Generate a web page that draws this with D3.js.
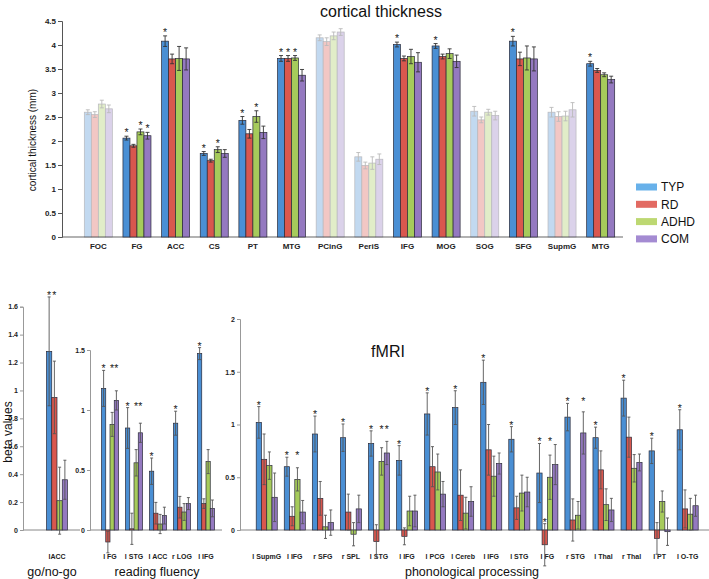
<!DOCTYPE html>
<html><head><meta charset="utf-8">
<script src="https://cdn.jsdelivr.net/npm/d3@7"></script>
<style>body{margin:0;background:#fff} svg text{font-family:"Liberation Sans",Arial,sans-serif}</style>
</head><body><svg id="c" width="709" height="579"></svg>
<script>
// ---------- DATA ----------
const groups = ["TYP", "RD", "ADHD", "COM"];

// cortical thickness (mm)
const ctLabels = ["FOC","FG","ACC","CS","PT","MTG","PCinG","PeriS","IFG","MOG","SOG","SFG","SupmG","MTG"];
const ctFaded  = [1,0,0,0,0,0,1,1,0,0,1,0,1,0];
const ctTYP  = [2.60,2.06,4.08,1.74,2.43,3.72,4.15,1.67,4.01,3.98,2.62,4.08,2.60,3.61];
const ctRD   = [2.55,1.90,3.71,1.59,2.15,3.72,4.07,1.49,3.72,3.76,2.44,3.71,2.51,3.47];
const ctADHD = [2.77,2.19,3.72,1.82,2.51,3.73,4.19,1.54,3.76,3.82,2.60,3.73,2.52,3.38];
const ctCOM  = [2.67,2.11,3.71,1.74,2.18,3.37,4.27,1.62,3.64,3.66,2.53,3.71,2.65,3.28];
const ctTYPerr  = [.05,.04,.11,.04,.08,.06,.06,.09,.05,.05,.10,.10,.10,.05];
const ctRDerr   = [.06,.03,.10,.03,.09,.06,.08,.07,.05,.05,.06,.14,.10,.04];
const ctADHDerr = [.08,.06,.25,.06,.12,.05,.08,.13,.15,.10,.06,.25,.10,.04];
const ctCOMerr  = [.08,.07,.23,.08,.13,.12,.07,.11,.20,.13,.09,.25,.15,.07];
const ctStars = [[0,0,0,0],[1,0,1,1],[1,0,0,0],[1,0,1,0],[1,0,1,0],[1,1,1,0],[0,0,0,0],
                 [0,0,0,0],[1,0,0,0],[1,0,0,0],[0,0,0,0],[1,0,0,0],[0,0,0,0],[1,0,0,0]];
const ctTicks = [0,0.5,1,1.5,2,2.5,3,3.5,4,4.5];

// fMRI: go/no-go
const gnLabels = ["lACC"];
const gnTYP = [1.28], gnRD = [0.95], gnADHD = [0.21], gnCOM = [0.36];
const gnTYPerr = [0.39], gnRDerr = [0.26], gnADHDerr = [0.24], gnCOMerr = [0.14];
const gnStars = [[1,1,0,0]];
const gnTicks = [0,0.2,0.4,0.6,0.8,1,1.2,1.4,1.6];

// fMRI: reading fluency
const rfLabels = ["l FG","l STG","l ACC","r LOG","l IFG"];
const rfTYP  = [1.18,0.85,0.49,0.89,1.47];
const rfRD   = [-0.10,0.01,0.14,0.19,0.22];
const rfADHD = [0.88,0.56,0.05,0.15,0.57];
const rfCOM  = [1.08,0.81,0.12,0.22,0.18];
const rfTYPerr  = [.15,.17,.11,.10,.05];
const rfRDerr   = [.09,.13,.09,.09,.04];
const rfADHDerr = [.10,.11,.08,.07,.10];
const rfCOMerr  = [.08,.08,.07,.05,.07];
const rfStars = [[1,0,1,1],[1,0,1,1],[1,0,0,0],[1,0,0,0],[1,0,0,0]];
const rfTicks = [0,0.5,1,1.5];

// fMRI: phonological processing
const ppLabels = ["l SupmG","l IFG","r SFG","r SPL","l STG","l IFG","l PCG","l Cereb","l IFG","l STG","l FG","r STG","l Thal","r Thal","l PT","l O-TG"];
const ppTYP  = [1.02,0.60,0.91,0.875,0.82,0.66,1.10,1.16,1.40,0.86,0.54,1.07,0.875,1.25,0.75,0.95];
const ppRD   = [0.67,0.13,0.30,0.17,-0.11,-0.06,0.60,0.33,0.76,0.21,-0.14,0.095,0.57,0.88,-0.08,0.20];
const ppADHD = [0.61,0.48,0.03,-0.04,0.65,0.18,0.55,0.16,0.51,0.35,0.50,0.14,0.24,0.585,0.27,0.15];
const ppCOM  = [0.31,0.17,0.07,0.20,0.73,0.18,0.34,0.27,0.63,0.36,0.62,0.92,0.19,0.64,-0.016,0.23];
const ppTYPerr  = [.15,.09,.17,.13,.12,.14,.20,.16,.21,.12,.28,.13,.10,.17,.12,.19];
const ppRDerr   = [.24,.09,.16,.17,.16,.08,.19,.24,.24,.11,.20,.20,.18,.19,.15,.18];
const ppADHDerr = [.13,.11,.11,.11,.13,.14,.17,.15,.19,.17,.21,.13,.15,.13,.10,.15];
const ppCOMerr  = [.23,.11,.12,.13,.11,.15,.12,.14,.10,.14,.19,.20,.11,.08,.13,.10];
const ppStars = [[1,0,0,0],[1,0,1,0],[1,0,0,0],[1,0,0,0],[1,0,1,1],[1,0,0,0],[1,0,0,0],[1,0,0,0],
                 [1,0,0,0],[1,0,0,0],[1,1,1,0],[1,0,0,1],[1,0,0,0],[1,0,0,0],[1,0,0,0],[1,0,0,0]];
const ppTicks = [0,0.5,1,1.5,2];

// ---------- STYLE ----------
const barColors = ["#4a8fd4","#d9574e","#a6cb5b","#9479c0"];
const legendColors = ["#68b1ea","#e26a62","#bdd872","#a48bd2"];
const svg = d3.select("#c");

function drawPanel(o) {
  const n = o.labels.length;
  const x0 = d3.scaleBand().domain(d3.range(n)).range(o.xRange).paddingInner(o.pad).paddingOuter(o.pad / 2);
  const x1 = d3.scaleBand().domain(d3.range(4)).range([0, x0.bandwidth()]);
  const y = d3.scaleLinear().domain(o.yDomain).range(o.yRange);
  const g = svg.append("g");

  // baseline
  g.append("line").attr("x1", o.base[0]).attr("x2", o.base[1])
    .attr("y1", y(0)).attr("y2", y(0)).attr("stroke", o.baseColor).attr("stroke-width", o.baseWidth);

  // y axis
  const ya = g.append("g").attr("transform", `translate(${o.axisX},0)`)
    .call(d3.axisLeft(y).tickValues(o.ticks).tickFormat(d3.format("~g")).tickSizeOuter(0).tickSize(o.tickLen).tickPadding(2));
  ya.select(".domain").attr("stroke", o.axisColor).attr("stroke-width", 1);
  ya.selectAll(".tick line").attr("stroke", o.axisColor);
  ya.selectAll(".tick text").attr("font-size", o.tickFont).attr("font-weight", "bold").attr("fill", "#222")
    .style("font-family", "'Liberation Sans',Arial,sans-serif");

  // x labels
  const xa = g.append("g").attr("transform", `translate(0,${y(0)})`)
    .call(d3.axisBottom(x0).tickFormat(i => o.labels[i]).tickSize(0).tickPadding(o.labelPad));
  xa.select(".domain").remove();
  xa.selectAll(".tick text").attr("font-size", o.labelFont).attr("font-weight", "bold").attr("fill", "#222")
    .style("font-family", "'Liberation Sans',Arial,sans-serif");

  for (let i = 0; i < n; i++) {
    const gg = g.append("g").attr("transform", `translate(${x0(i)},0)`)
      .attr("opacity", o.faded && o.faded[i] ? 0.33 : 1);
    const vals = o.series.map(s => s[i]);
    const errs = o.errors.map(s => s[i]);
    // bars
    gg.selectAll("rect").data(vals).join("rect")
      .attr("x", (d, k) => x1(k)).attr("width", x1.bandwidth())
      .attr("y", d => y(Math.max(0, d))).attr("height", d => Math.abs(y(d) - y(0)))
      .attr("fill", (d, k) => barColors[k]).attr("stroke", "#2a2a38").attr("stroke-width", 0.7);
    // error bars
    vals.forEach((v, k) => {
      const cx = x1(k) + x1.bandwidth() / 2, e = errs[k];
      const eg = gg.append("g").attr("stroke", o.errColor).attr("stroke-width", 0.9);
      eg.append("line").attr("x1", cx).attr("x2", cx).attr("y1", y(v - e)).attr("y2", y(v + e));
      [v - e, v + e].forEach(t => eg.append("line").attr("x1", cx - o.cap).attr("x2", cx + o.cap).attr("y1", y(t)).attr("y2", y(t)));
    });
    // stars
    const st = o.stars[i];
    let level = -Infinity;
    st.forEach((s, k) => { if (s && vals[k] > 0) level = Math.max(level, vals[k] + errs[k]); });
    st.forEach((s, k) => {
      if (!s) return;
      const top = o.perBarStars || vals[k] <= 0 ? vals[k] + errs[k] : level;
      gg.append("text").attr("x", x1(k) + x1.bandwidth() / 2).attr("y", y(top) - o.starGap + 7)
        .attr("text-anchor", "middle").attr("font-size", 10.5).attr("fill", "#222").text("*");
    });
  }
}

// ---------- cortical thickness ----------
drawPanel({
  labels: ctLabels, series: [ctTYP, ctRD, ctADHD, ctCOM], errors: [ctTYPerr, ctRDerr, ctADHDerr, ctCOMerr],
  stars: ctStars, faded: ctFaded, xRange: [79, 620], pad: 0.275,
  yDomain: [0, 4.5], yRange: [237, 21], ticks: ctTicks, axisX: 62, base: [62, 623],
  baseColor: "#666", baseWidth: 1.2, axisColor: "#555", tickLen: 4, tickFont: 8,
  labelPad: 6, labelFont: 8, errColor: "#333", cap: 2, starGap: 7, perBarStars: true
});
svg.append("text").attr("x", 381).attr("y", 17).attr("text-anchor", "middle").attr("font-size", 16).attr("fill", "#111").text("cortical thickness");
svg.append("text").attr("transform", "translate(36,140) rotate(-90)").attr("text-anchor", "middle").attr("font-size", 10).attr("fill", "#111").text("cortical thickness (mm)");

// legend
const lg = svg.append("g");
groups.forEach((name, k) => {
  const yy = 187 + k * 17.3;
  lg.append("rect").attr("x", 636).attr("y", yy - 3.5).attr("width", 21).attr("height", 7).attr("fill", legendColors[k]);
  lg.append("text").attr("x", 661).attr("y", yy).attr("dy", "0.35em").attr("font-size", 12).attr("fill", "#111").text(name);
});

// ---------- fMRI ----------
const fm = { baseColor: "#888", baseWidth: 1, axisColor: "#999", tickLen: 3, tickFont: 7, labelPad: 24, labelFont: 7, errColor: "#555", cap: 1.5, starGap: 5, perBarStars: false };
drawPanel(Object.assign({}, fm, {
  labels: gnLabels, series: [gnTYP, gnRD, gnADHD, gnCOM], errors: [gnTYPerr, gnRDerr, gnADHDerr, gnCOMerr],
  stars: gnStars, xRange: [36, 78], pad: 0.5, yDomain: [0, 1.6], yRange: [530, 306.7], ticks: gnTicks, axisX: 23, base: [23, 80]
}));
drawPanel(Object.assign({}, fm, {
  labels: rfLabels, series: [rfTYP, rfRD, rfADHD, rfCOM], errors: [rfTYPerr, rfRDerr, rfADHDerr, rfCOMerr],
  stars: rfStars, xRange: [98, 218], pad: 0.29, yDomain: [0, 1.5], yRange: [530, 350], ticks: rfTicks, axisX: 90, base: [90, 222]
}));
drawPanel(Object.assign({}, fm, {
  labels: ppLabels, series: [ppTYP, ppRD, ppADHD, ppCOM], errors: [ppTYPerr, ppRDerr, ppADHDerr, ppCOMerr],
  stars: ppStars, xRange: [252.7, 701.7], pad: 0.25, yDomain: [0, 2], yRange: [530, 319], ticks: ppTicks, axisX: 240, base: [240, 709]
}));

svg.append("text").attr("x", 388).attr("y", 357).attr("text-anchor", "middle").attr("font-size", 16).attr("fill", "#111").text("fMRI");
svg.append("text").attr("transform", "translate(12,432) rotate(-90)").attr("text-anchor", "middle").attr("font-size", 12).attr("fill", "#111").text("beta values");
[["go/no-go", 52], ["reading fluency", 157], ["phonological processing", 472]].forEach(([t, x]) =>
  svg.append("text").attr("x", x).attr("y", 576).attr("text-anchor", "middle").attr("font-size", 12.5).attr("fill", "#111").text(t));
</script>
</body></html>
